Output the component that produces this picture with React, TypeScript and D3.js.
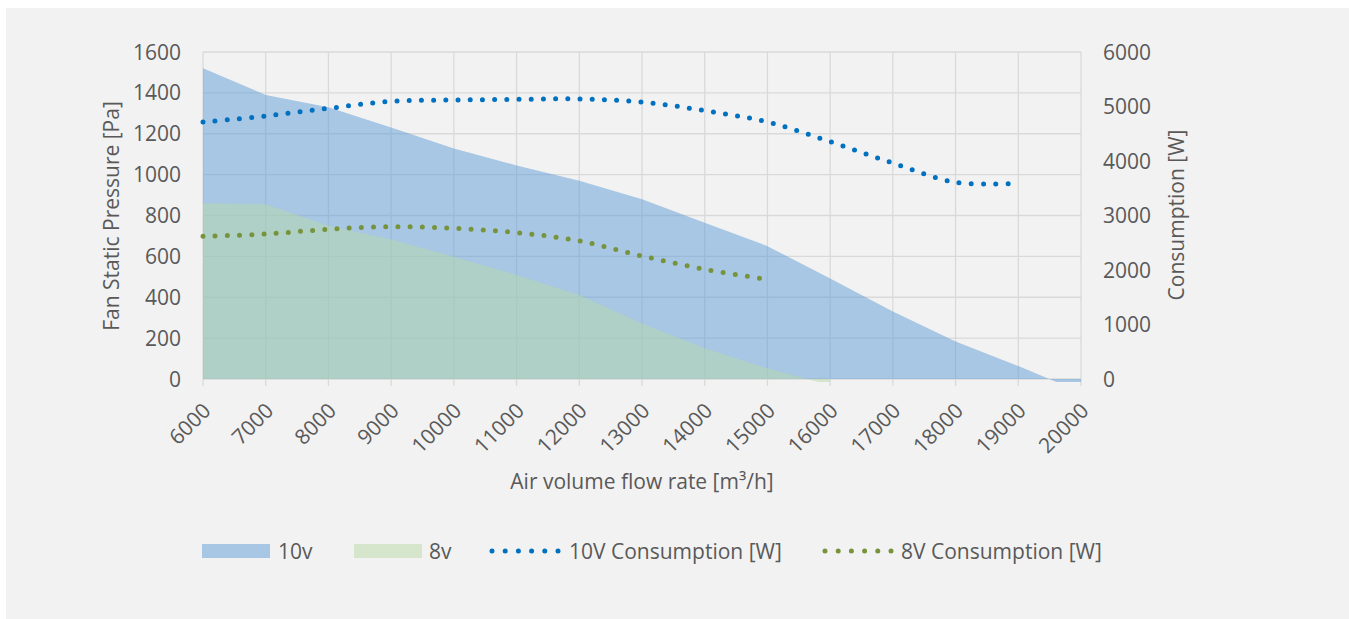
import React, { useEffect, useRef } from 'react';
import * as d3 from 'd3';

// air volume flow rate [m3/h]
const flow = [6000, 7000, 8000, 9000, 10000, 11000, 12000, 13000, 14000, 15000, 16000, 17000, 18000, 19000, 20000];
// fan static pressure [Pa]
const pressure10v = [1520, 1390, 1330, 1230, 1128, 1045, 970, 880, 765, 650, 492, 330, 183, 63, -65];
const pressure8v = [860, 855, 750, 682, 598, 509, 411, 272, 150, 52, -30, null, null, null, null];
// consumption [W]
const consumption10v = [4715, 4826, 4966, 5095, 5119, 5131, 5138, 5083, 4924, 4716, 4355, 3963, 3609, 3590, null];
const consumption8v = [2618, 2661, 2747, 2795, 2765, 2685, 2535, 2257, 2013, 1829, null, null, null, null, null];

const pressureTicks = [0, 200, 400, 600, 800, 1000, 1200, 1400, 1600];
const consumptionTicks = [0, 1000, 2000, 3000, 4000, 5000, 6000];
const legendNames = ['10v', '8v', '10V Consumption [W]', '8V Consumption [W]'];

const W = 1349;
const H = 619;
const FONT = '"Open Sans", Lato, sans-serif';
const TEXT = '#595959';
const GRID = '#d9d9d9';
const BLUE_AREA = '#5b9bd5';
const GREEN_AREA = '#b8daa8';
const BLUE_LINE = '#0070c0';
const GREEN_LINE = '#77933c';

export default function App() {
  const ref = useRef<SVGSVGElement>(null);

  useEffect(() => {
    const svg = d3.select(ref.current);
    svg.selectAll('*').remove();

    const x = d3.scaleLinear().domain([6000, 20000]).range([203, 1081]);
    const yL = d3.scaleLinear().domain([0, 1600]).range([379, 52]);
    const yR = d3.scaleLinear().domain([0, 6000]).range([379, 52]);

    // chart background
    svg.append('rect').attr('x', 6).attr('y', 8).attr('width', W - 6).attr('height', H - 8).attr('fill', '#f2f2f2');

    const g = svg.append('g');

    // grid
    g.append('g').selectAll('line').data(pressureTicks).enter().append('line')
      .attr('x1', x(6000)).attr('x2', x(20000))
      .attr('y1', (d) => yL(d)).attr('y2', (d) => yL(d))
      .attr('stroke', GRID).attr('stroke-width', 1.3);
    g.append('g').selectAll('line').data(flow).enter().append('line')
      .attr('x1', (d) => x(d)).attr('x2', (d) => x(d))
      .attr('y1', yL(1600)).attr('y2', yL(0) + 7)
      .attr('stroke', GRID).attr('stroke-width', 1.3);

    svg.append('defs').append('clipPath').attr('id', 'plotclip')
      .append('rect').attr('x', x(6000)).attr('y', yL(1600)).attr('width', x(20000) - x(6000)).attr('height', yL(0) - yL(1600) + 3);

    const rows10 = flow.map((f, i) => ({ f, v: pressure10v[i] }));
    const rows8 = flow.map((f, i) => ({ f, v: pressure8v[i] }));

    const area = d3.area<{ f: number; v: number | null }>()
      .defined((d) => d.v !== null)
      .x((d) => x(d.f))
      .y0(yL(0))
      .y1((d) => yL(d.v as number));

    g.append('path').datum(rows10).attr('clip-path', 'url(#plotclip)')
      .attr('d', area).attr('fill', BLUE_AREA).attr('fill-opacity', 0.5);
    g.append('path').datum(rows8).attr('clip-path', 'url(#plotclip)')
      .attr('d', area).attr('fill', GREEN_AREA).attr('fill-opacity', 0.5);

    // consumption lines, smoothed & dotted
    const line = d3.line<{ f: number; v: number | null }>()
      .defined((d) => d.v !== null)
      .curve(d3.curveCatmullRom)
      .x((d) => x(d.f))
      .y((d) => yR(d.v as number));

    const lines = [
      { vals: consumption10v, color: BLUE_LINE },
      { vals: consumption8v, color: GREEN_LINE },
    ];
    lines.forEach((s) => {
      g.append('path').datum(flow.map((f, i) => ({ f, v: s.vals[i] })))
        .attr('d', line).attr('fill', 'none')
        .attr('stroke', s.color).attr('stroke-width', 5)
        .attr('stroke-linecap', 'round').attr('stroke-dasharray', '0 12.2');
    });

    const txt = (sel: any) => sel.attr('font-family', FONT).attr('fill', TEXT).attr('font-size', 21);

    // left axis labels
    g.append('g').selectAll('text').data(pressureTicks).enter().append('text')
      .call(txt)
      .attr('x', 181).attr('y', (d) => yL(d)).attr('dy', '0.36em')
      .attr('text-anchor', 'end').text((d) => d);

    // right axis labels
    g.append('g').selectAll('text').data(consumptionTicks).enter().append('text')
      .call(txt)
      .attr('x', 1103).attr('y', (d) => yR(d)).attr('dy', '0.36em')
      .attr('text-anchor', 'start').text((d) => d);

    // x labels rotated
    g.append('g').selectAll('text').data(flow).enter().append('text')
      .call(txt)
      .attr('text-anchor', 'end')
      .attr('transform', (d) => `translate(${x(d) + 9},${412}) rotate(-45)`)
      .text((d) => d);

    // axis titles
    g.append('text').call(txt).attr('text-anchor', 'middle')
      .attr('transform', `translate(${119},${216}) rotate(-90)`).text('Fan Static Pressure [Pa]');
    g.append('text').call(txt).attr('text-anchor', 'middle')
      .attr('transform', `translate(${1184},${215}) rotate(-90)`).text('Consumption [W]');
    g.append('text').call(txt).attr('text-anchor', 'middle')
      .attr('x', 642).attr('y', 489).text('Air volume flow rate [m³/h]');

    // legend
    const lg = svg.append('g').attr('transform', 'translate(0,551)');
    lg.append('rect').attr('x', 202).attr('y', -7).attr('width', 68).attr('height', 14)
      .attr('fill', BLUE_AREA).attr('fill-opacity', 0.5);
    lg.append('text').call(txt).attr('x', 278).attr('dy', '0.36em').text(legendNames[0]);
    lg.append('rect').attr('x', 354).attr('y', -7).attr('width', 68).attr('height', 14)
      .attr('fill', GREEN_AREA).attr('fill-opacity', 0.5);
    lg.append('text').call(txt).attr('x', 429).attr('dy', '0.36em').text(legendNames[1]);
    lg.append('line').attr('x1', 492).attr('x2', 558).attr('y1', 0).attr('y2', 0)
      .attr('stroke', BLUE_LINE).attr('stroke-width', 5)
      .attr('stroke-linecap', 'round').attr('stroke-dasharray', '0 13.2');
    lg.append('text').call(txt).attr('x', 569).attr('dy', '0.36em').text(legendNames[2]);
    lg.append('line').attr('x1', 825).attr('x2', 891).attr('y1', 0).attr('y2', 0)
      .attr('stroke', GREEN_LINE).attr('stroke-width', 5)
      .attr('stroke-linecap', 'round').attr('stroke-dasharray', '0 13.2');
    lg.append('text').call(txt).attr('x', 901).attr('dy', '0.36em').text(legendNames[3]);
  }, []);

  return (
    <svg ref={ref} width={W} height={H} style={{ position: 'absolute', left: 0, top: 0 }} />
  );
}
